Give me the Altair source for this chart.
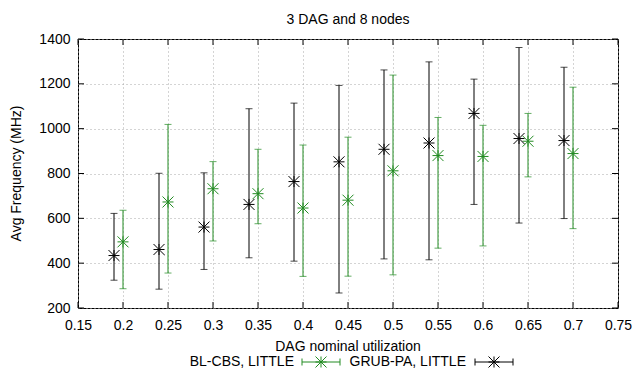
import altair as alt
import pandas as pd

# ---- data ----
green_x = [0.2, 0.25, 0.3, 0.35, 0.4, 0.45, 0.5, 0.55, 0.6, 0.65, 0.7]
green_y = [495, 673, 732, 710, 646, 681, 812, 880, 876, 944, 889]
green_lo = [286, 356, 499, 576, 341, 342, 348, 467, 477, 785, 554]
green_hi = [636, 1019, 853, 908, 927, 962, 1239, 1050, 1015, 1068, 1185]

black_x = [0.19, 0.24, 0.29, 0.34, 0.39, 0.44, 0.49, 0.54, 0.59, 0.64, 0.69]
black_y = [434, 461, 561, 662, 764, 852, 908, 936, 1068, 956, 947]
black_lo = [324, 284, 372, 424, 409, 267, 419, 415, 662, 579, 599]
black_hi = [622, 801, 803, 1089, 1114, 1193, 1262, 1298, 1221, 1362, 1274]

series_names = ["BL-CBS, LITTLE", "GRUB-PA, LITTLE"]
x_ticks = [0.15, 0.2, 0.25, 0.3, 0.35, 0.4, 0.45, 0.5, 0.55, 0.6, 0.65, 0.7, 0.75]
y_ticks = [200, 400, 600, 800, 1000, 1200, 1400]
title_text = "3 DAG and 8 nodes"
x_title = "DAG nominal utilization"
y_title = "Avg Frequency (MHz)"

GREEN = "#228B22"
BLACK = "#000000"
FONT = "Liberation Sans"
FS = 14
W, H = 540, 269
STAR = "M-1,0L1,0M0,-1L0,1M-1,-1L1,1M-1,1L1,-1"

df = pd.concat([
    pd.DataFrame({"x": green_x, "y": green_y, "lo": green_lo, "hi": green_hi,
                  "series": series_names[0]}),
    pd.DataFrame({"x": black_x, "y": black_y, "lo": black_lo, "hi": black_hi,
                  "series": series_names[1]}),
])

xscale = alt.Scale(domain=[0.15, 0.75], nice=False, zero=False)
yscale = alt.Scale(domain=[200, 1400], nice=False, zero=False)
cscale = alt.Scale(domain=series_names, range=[GREEN, BLACK])

GRID = "#a8a8a8"
xaxis = alt.Axis(values=x_ticks, format="~g", title=None, ticks=False, domain=False,
                 labelPadding=10, labelFont=FONT, labelFontSize=FS, labelColor="black",
                 grid=True, gridDash=[1, 3], gridColor=GRID, labelFlush=False)
yaxis = alt.Axis(values=y_ticks, format="d", title=None, ticks=False, domain=False,
                 labelPadding=8, labelFont=FONT, labelFontSize=FS, labelColor="black",
                 grid=True, gridDash=[1, 3], gridColor=GRID, labelFlush=False)

X = lambda f: alt.X(f, scale=xscale, axis=xaxis)
Y = lambda f: alt.Y(f, scale=yscale, axis=yaxis)
C = alt.Color("series:N", scale=cscale, legend=None)

base = alt.Chart(df)
bars = base.mark_rule(strokeWidth=1).encode(x=X("x:Q"), y=Y("lo:Q"), y2="hi:Q", color=C)
cap_lo = base.mark_tick(orient="horizontal", size=7, thickness=1).encode(
    x=X("x:Q"), y=Y("lo:Q"), color=C)
cap_hi = base.mark_tick(orient="horizontal", size=7, thickness=1).encode(
    x=X("x:Q"), y=Y("hi:Q"), color=C)
pts = base.mark_point(shape=STAR, size=121, filled=False, strokeWidth=1, opacity=1).encode(
    x=X("x:Q"), y=Y("y:Q"), color=C)

# inward border ticks (gnuplot style)
xt = pd.DataFrame({"x": x_ticks})
yt = pd.DataFrame({"lo": y_ticks})
tick_b = alt.Chart(xt).mark_rule(color="black", strokeWidth=1).encode(
    x=X("x:Q"), y=alt.value(H), y2=alt.value(H - 6))
tick_t = alt.Chart(xt).mark_rule(color="black", strokeWidth=1).encode(
    x=X("x:Q"), y=alt.value(0), y2=alt.value(6))
tick_l = alt.Chart(yt).mark_rule(color="black", strokeWidth=1).encode(
    y=Y("lo:Q"), x=alt.value(0), x2=alt.value(6))
tick_r = alt.Chart(yt).mark_rule(color="black", strokeWidth=1).encode(
    y=Y("lo:Q"), x=alt.value(W - 6), x2=alt.value(W))

one = pd.DataFrame({"k": [0]})

def text(s, x, y, align="center", angle=0):
    return alt.Chart(one).mark_text(text=s, font=FONT, fontSize=FS, color="black",
                                    align=align, baseline="middle", angle=angle).encode(
        x=alt.value(x), y=alt.value(y))

title = text(title_text, W / 2, -19)
xtitle = text(x_title, W / 2, 308)
ytitle = text(y_title, -61, H / 2, angle=270)

LY = 323
SW = 38
def legend_entry(label, color, text_end, line_start):
    lab = text(label, text_end, LY, align="right")
    line = alt.Chart(one).mark_rule(color=color, strokeWidth=1).encode(
        x=alt.value(line_start), x2=alt.value(line_start + SW), y=alt.value(LY))
    c1 = alt.Chart(one).mark_rule(color=color, strokeWidth=1).encode(
        x=alt.value(line_start), y=alt.value(LY - 3.5), y2=alt.value(LY + 3.5))
    c2 = alt.Chart(one).mark_rule(color=color, strokeWidth=1).encode(
        x=alt.value(line_start + SW), y=alt.value(LY - 3.5), y2=alt.value(LY + 3.5))
    star = alt.Chart(one).mark_point(shape=STAR, size=121, filled=False, strokeWidth=1,
                                     color=color, opacity=1).encode(
        x=alt.value(line_start + SW / 2), y=alt.value(LY))
    return [lab, line, c1, c2, star]

leg = legend_entry(series_names[0], GREEN, 216, 224) + legend_entry(series_names[1], BLACK, 388, 397)

chart = alt.layer(
    bars, cap_lo, cap_hi, pts, tick_b, tick_t, tick_l, tick_r,
    title, xtitle, ytitle, *leg
).properties(
    width=W, height=H,
    autosize=alt.AutoSizeParams(type="none"),
    padding={"left": 78, "top": 39, "right": 16, "bottom": 65},
).configure_view(stroke="black", strokeWidth=1)

chart.save("out.html", embed_options={"renderer": "svg", "actions": False})
